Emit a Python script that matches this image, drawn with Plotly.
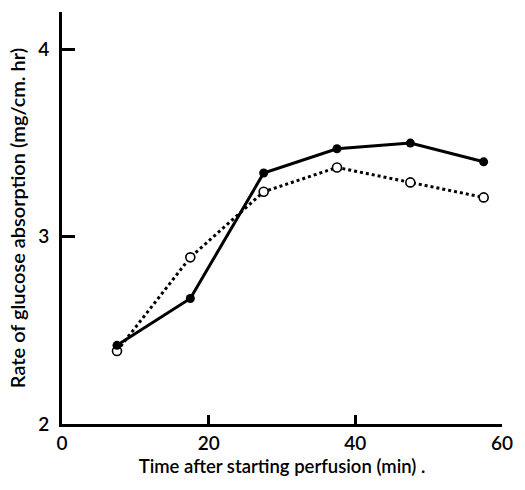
import plotly.graph_objects as go

time_min = [7.5, 17.5, 27.5, 37.5, 47.5, 57.5]
filled_rate = [2.42, 2.67, 3.34, 3.47, 3.50, 3.40]
open_rate = [2.39, 2.89, 3.24, 3.37, 3.29, 3.21]

x_ticks = [0, 20, 40, 60]
y_ticks = [2, 3, 4]

font_family = "Lato, 'Open Sans', sans-serif"

fig = go.Figure()
fig.add_trace(go.Scatter(
    x=time_min, y=open_rate, mode="lines+markers",
    line=dict(color="black", width=3, dash="3px,3px"),
    marker=dict(symbol="circle", size=9, color="white",
                line=dict(color="black", width=1.6)),
    showlegend=False,
))
fig.add_trace(go.Scatter(
    x=time_min, y=filled_rate, mode="lines+markers",
    line=dict(color="black", width=3),
    marker=dict(symbol="circle", size=9, color="black"),
    showlegend=False,
))

fig.update_layout(
    width=525, height=490,
    margin=dict(l=62, r=12, t=12, b=66),
    paper_bgcolor="white", plot_bgcolor="white",
    font=dict(family=font_family, color="black", size=18, weight=600),
    xaxis=dict(
        range=[0, 60], tickvals=x_ticks, ticktext=[str(v) for v in x_ticks],
        showline=True, linecolor="black", linewidth=3,
        ticks="inside", ticklen=9, tickwidth=3, tickcolor="black",
        showgrid=False, zeroline=False,
        tickfont=dict(size=19, family=font_family, weight=600),
        title=dict(text="Time after starting perfusion (min) .",
                   font=dict(size=18.5, family=font_family, weight=600), standoff=8),
    ),
    yaxis=dict(
        range=[2, 4.2], tickvals=y_ticks, ticktext=[str(v) for v in y_ticks],
        showline=True, linecolor="black", linewidth=3,
        ticks="inside", ticklen=13, tickwidth=3, tickcolor="black",
        ticklabelstandoff=6,
        showgrid=False, zeroline=False,
        tickfont=dict(size=19, family=font_family, weight=600),
        title=dict(text="Rate of glucose absorption (mg/cm. hr)",
                   font=dict(size=20, family=font_family, weight=600), standoff=8),
    ),
)

fig.write_html("out.html")
